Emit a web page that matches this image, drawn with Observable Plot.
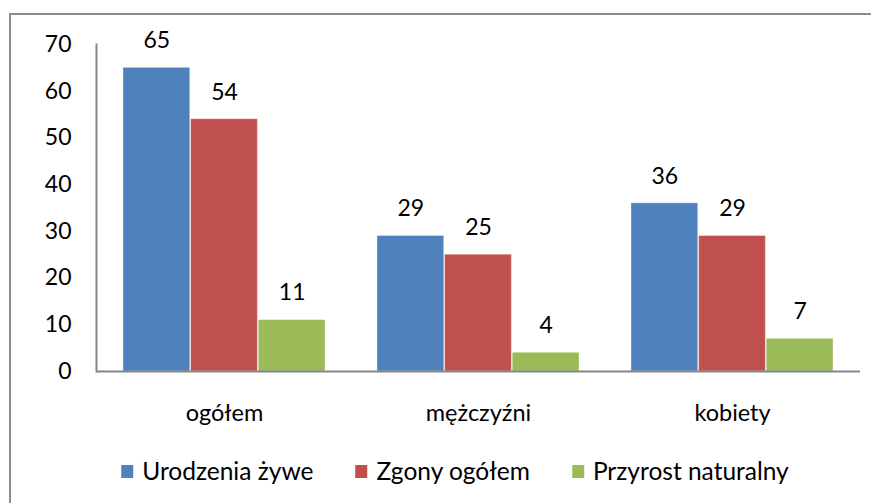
<!DOCTYPE html>
<html><head><meta charset="utf-8">
<script src="https://cdn.jsdelivr.net/npm/d3@7"></script>
<script src="https://cdn.jsdelivr.net/npm/@observablehq/plot@0.6"></script>
<style>
body{margin:0;background:#fff;overflow:hidden}
#wrap{position:relative;width:871px;height:503px;font-family:Lato,sans-serif}
#chart{position:absolute;left:0;top:0}
#border{position:absolute;left:9px;top:13px;right:-5px;bottom:-5px;border-left:2px solid #8c8c8c;border-top:2px solid #8c8c8c;pointer-events:none}
#legend{position:absolute;top:457px;left:455px;transform:translateX(-50%);display:flex;gap:42px;white-space:nowrap;font-size:24.5px;line-height:28px;color:#000}
.item{display:flex;align-items:center}
.sw{width:12px;height:13px;margin-right:9px}
</style></head><body><div id="wrap"><div id="chart"></div><div id="legend"></div><div id="border"></div></div>
<script>
const groups = ["ogółem", "mężczyźni", "kobiety"];
const series = ["Urodzenia żywe", "Zgony ogółem", "Przyrost naturalny"];
const urodzenia = [65, 29, 36];
const zgony = [54, 25, 29];
const przyrost = [11, 4, 7];
const colors = ["#4F81BD", "#C0504D", "#9BBB59"];
const yTicks = [0, 10, 20, 30, 40, 50, 60, 70];

const values = [urodzenia, zgony, przyrost];
const data = [];
series.forEach((s, k) => groups.forEach((g, i) => data.push({group: g, series: s, k, value: values[k][i]})));

const W = 871, H = 440, ML = 96, MR = 11, MT = 44, MB = 69;
const PI = 0.203, PO = 0.102;
const step = (W - ML - MR) / (groups.length - PI + 2 * PO);
const bw = step * (1 - PI);
const sub = bw / series.length;

const marks = [];
series.forEach((s, k) => {
  const d = data.filter(r => r.k === k);
  marks.push(Plot.barY(d, {
    x: "group", y: "value", fill: colors[k],
    insetLeft: k * sub, insetRight: (series.length - 1 - k) * sub,
    stroke: "#fff", strokeOpacity: 0.35, strokeWidth: 1
  }));
  marks.push(Plot.text(d, {
    x: "group", y: "value", text: d => String(d.value),
    dx: (k - (series.length - 1) / 2) * sub, dy: -27, lineAnchor: "middle",
    fill: "#000", fontSize: 23
  }));
});

const chart = Plot.plot({
  width: W, height: H,
  marginLeft: ML, marginRight: MR, marginTop: MT, marginBottom: MB,
  style: {fontFamily: "Lato, sans-serif", fontSize: "23px", color: "#000", background: "transparent"},
  x: {type: "band", domain: groups, paddingInner: PI, paddingOuter: PO, label: null},
  y: {domain: [0, 70], label: null},
  marks: [
    ...marks,
    Plot.axisY({ticks: yTicks, tickSize: 0, tickPadding: 25, fontSize: 23, label: null, fill: "#000"}),
    Plot.axisX({tickSize: 0, tickPadding: 33, fontSize: 23.5, label: null, fill: "#000"}),
    Plot.frame({anchor: "left", stroke: "#868686", strokeWidth: 2}),
    Plot.ruleY([0], {stroke: "#868686", strokeWidth: 2})
  ]
});
document.getElementById("chart").appendChild(chart);

const legend = document.getElementById("legend");
series.forEach((s, k) => {
  const it = document.createElement("div");
  it.className = "item";
  const sw = document.createElement("div");
  sw.className = "sw";
  sw.style.background = colors[k];
  const t = document.createElement("span");
  t.textContent = s;
  it.appendChild(sw); it.appendChild(t);
  legend.appendChild(it);
});
</script></body></html>
